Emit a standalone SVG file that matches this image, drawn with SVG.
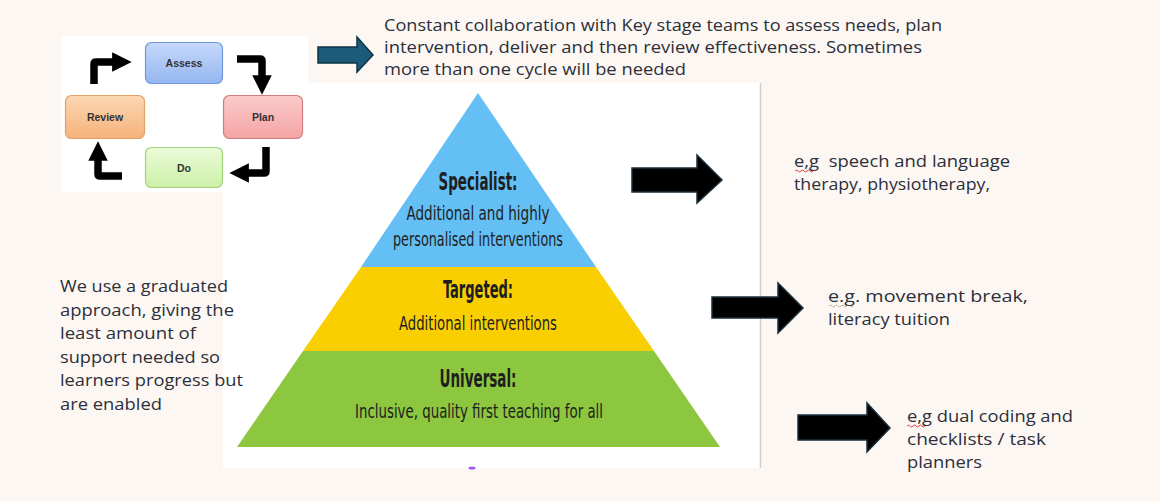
<svg xmlns="http://www.w3.org/2000/svg" width="1160" height="502" viewBox="0 0 1160 502">
<defs>
<style>
.t{font-family:"Open Sans","Liberation Sans",sans-serif;font-size:16.5px;fill:#2b2f3a}
.p{font-family:"Liberation Sans Narrow","DejaVu Sans Condensed","Liberation Sans",sans-serif;fill:#1e1e1e}
.ph{font-size:24px;font-weight:bold}
.ps{font-size:19.5px}
.cl{font-family:"Liberation Sans",sans-serif;font-size:10.5px;font-weight:bold;fill:#333;text-anchor:middle}
.ca{fill:none;stroke:#000;stroke-width:7.5}
.ba{fill:#000;stroke:#1a2e3a;stroke-width:1.5}
.sq{fill:none;stroke:#e04040;stroke-width:1}
</style>
<marker id="ah" viewBox="0 0 10 10" refX="3" refY="5" markerWidth="2.6" markerHeight="2.6" orient="auto">
<path d="M0,0 L10,5 L0,10 z" fill="#000"/>
</marker>
<linearGradient id="gA" x1="0" y1="0" x2="0" y2="1"><stop offset="0" stop-color="#c6d8fa"/><stop offset="1" stop-color="#94b6f0"/></linearGradient>
<linearGradient id="gP" x1="0" y1="0" x2="0" y2="1"><stop offset="0" stop-color="#fbcaca"/><stop offset="1" stop-color="#f4a4a4"/></linearGradient>
<linearGradient id="gD" x1="0" y1="0" x2="0" y2="1"><stop offset="0" stop-color="#eafbd9"/><stop offset="1" stop-color="#cdf0a8"/></linearGradient>
<linearGradient id="gR" x1="0" y1="0" x2="0" y2="1"><stop offset="0" stop-color="#fcd7b4"/><stop offset="1" stop-color="#f6b27a"/></linearGradient>
</defs>
<rect width="1160" height="502" fill="#fdf7f3"/>

<g id="pyramid">
<rect x="223" y="83" width="537" height="385" fill="#ffffff"/>
<line x1="760.5" y1="83" x2="760.5" y2="468" stroke="#cfcfcf" stroke-width="1.5"/>
<polygon points="478,93 596,267 361,267" fill="#63bff4"/>
<polygon points="361,267 596,267 654,351 303,351" fill="#f9cf02"/>
<polygon points="303,351 654,351 720,447 237,447" fill="#8dc63f"/>
<ellipse cx="472" cy="468" rx="3.5" ry="1.5" fill="#a05af0"/>
<text class="p ph" x="478" y="190" text-anchor="middle" textLength="79" lengthAdjust="spacingAndGlyphs">Specialist:</text>
<text class="p ps" x="478" y="220" text-anchor="middle" textLength="143" lengthAdjust="spacingAndGlyphs">Additional and highly</text>
<text class="p ps" x="478" y="246" text-anchor="middle" textLength="170" lengthAdjust="spacingAndGlyphs">personalised interventions</text>
<text class="p ph" x="478" y="298" text-anchor="middle" textLength="70" lengthAdjust="spacingAndGlyphs">Targeted:</text>
<text class="p ps" x="478" y="330" text-anchor="middle" textLength="158" lengthAdjust="spacingAndGlyphs">Additional interventions</text>
<text class="p ph" x="478" y="387" text-anchor="middle" textLength="77" lengthAdjust="spacingAndGlyphs">Universal:</text>
<text class="p ps" x="479" y="418" text-anchor="middle" textLength="248" lengthAdjust="spacingAndGlyphs">Inclusive, quality first teaching for all</text>
</g>

<g id="cycle">
<rect x="62" y="36" width="246" height="156" fill="#ffffff"/>
<g id="assess"><rect x="145.5" y="42.5" width="77" height="41" rx="6" fill="url(#gA)" stroke="#7099dc" stroke-width="1.2"/><text class="cl" x="184" y="66.5">Assess</text></g>
<g id="plan"><rect x="223.5" y="95.5" width="79" height="43" rx="6" fill="url(#gP)" stroke="#d27e7e" stroke-width="1.2"/><text class="cl" x="263" y="120.5">Plan</text></g>
<g id="do"><rect x="145.5" y="147.5" width="77" height="40" rx="6" fill="url(#gD)" stroke="#a2d27a" stroke-width="1.2"/><text class="cl" x="184" y="171.5">Do</text></g>
<g id="review"><rect x="65.5" y="95.5" width="79" height="43" rx="6" fill="url(#gR)" stroke="#e59f62" stroke-width="1.2"/><text class="cl" x="105" y="120.5">Review</text></g>
</g>

<g id="connectors">
<path class="ca" d="M94,84 V64 Q94,62 96,62 H118" marker-end="url(#ah)"/>
<path class="ca" d="M237,59 H260 Q262,59 262,61 V81" marker-end="url(#ah)"/>
<path class="ca" d="M266,147 V171 Q266,173 264,173 H243" marker-end="url(#ah)"/>
<path class="ca" d="M122,176 H100 Q98,176 98,174 V155" marker-end="url(#ah)"/>
<polygon points="318,47 357,47 357,37 373,55 357,72 357,63 318,63" fill="#1b5a78" stroke="#0e3347" stroke-width="1.5"/>
<polygon class="ba" points="632,168 697,168 697,155 722,180 697,203 697,192 632,192"/>
<polygon class="ba" points="712,297 778,297 778,283 803,308 778,333 778,318 712,318"/>
<polygon class="ba" points="798,415 867,415 867,403 890,428 867,452 867,440 798,440"/>
</g>

<g id="texts">
<text class="t" x="384" y="31" textLength="558" lengthAdjust="spacingAndGlyphs">Constant collaboration with Key stage teams to assess needs, plan</text>
<text class="t" x="384" y="53" textLength="538" lengthAdjust="spacingAndGlyphs">intervention, deliver and then review effectiveness. Sometimes</text>
<text class="t" x="384" y="75" textLength="302" lengthAdjust="spacingAndGlyphs">more than one cycle will be needed</text>

<text class="t" x="794" y="167" textLength="216" lengthAdjust="spacingAndGlyphs">e,g&#160; speech and language</text>
<text class="t" x="794" y="190" textLength="196" lengthAdjust="spacingAndGlyphs">therapy, physiotherapy,</text>
<path class="sq" d="M795,171 q1.5,-2 3,0 t3,0 t3,0 t3,0 t3,0 t3,0"/>

<text class="t" x="828" y="302" textLength="200" lengthAdjust="spacingAndGlyphs">e.g. movement break,</text>
<text class="t" x="828" y="325" textLength="122" lengthAdjust="spacingAndGlyphs">literacy tuition</text>
<path d="M829,306 q1.5,-1.5 3,0 t3,0 t3,0 t3,0 t3,0 t3,0 t3,0 t3,0" fill="none" stroke="#9a8a6a" stroke-width="1" stroke-dasharray="1.5,1"/>

<text class="t" x="907" y="422" textLength="166" lengthAdjust="spacingAndGlyphs">e,g dual coding and</text>
<text class="t" x="907" y="445" textLength="139" lengthAdjust="spacingAndGlyphs">checklists / task</text>
<text class="t" x="907" y="468" textLength="75" lengthAdjust="spacingAndGlyphs">planners</text>
<path class="sq" d="M907,426 q1.5,-2 3,0 t3,0 t3,0 t3,0 t3,0 t3,0"/>

<text class="t" x="60" y="292" textLength="168" lengthAdjust="spacingAndGlyphs">We use a graduated</text>
<text class="t" x="60" y="315.5" textLength="174" lengthAdjust="spacingAndGlyphs">approach, giving the</text>
<text class="t" x="60" y="339" textLength="136" lengthAdjust="spacingAndGlyphs">least amount of</text>
<text class="t" x="60" y="362.5" textLength="160" lengthAdjust="spacingAndGlyphs">support needed so</text>
<text class="t" x="60" y="386" textLength="183" lengthAdjust="spacingAndGlyphs">learners progress but</text>
<text class="t" x="60" y="409.5" textLength="102" lengthAdjust="spacingAndGlyphs">are enabled</text>
</g>
</svg>
